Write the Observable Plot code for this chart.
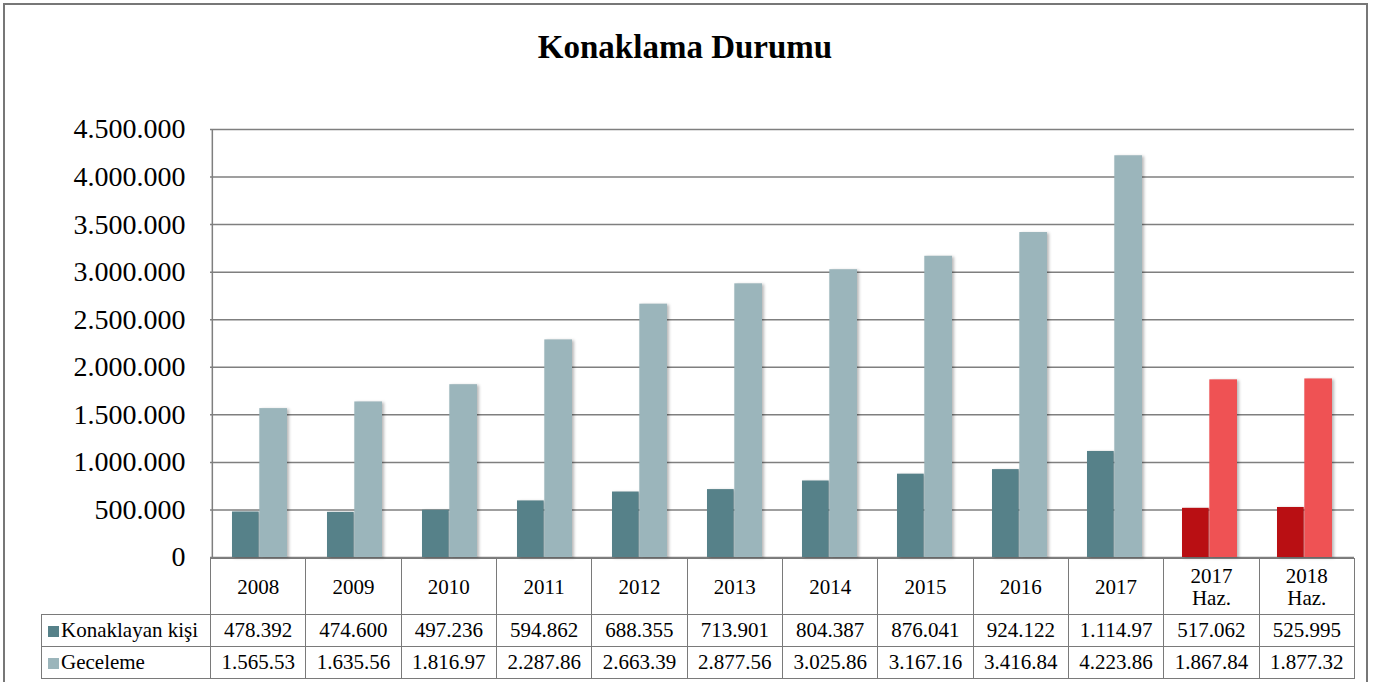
<!DOCTYPE html>
<html>
<head>
<meta charset="utf-8">
<script src="https://cdn.jsdelivr.net/npm/d3@7"></script>
<script src="https://cdn.jsdelivr.net/npm/@observablehq/plot@0.6"></script>
<style>
  html, body { margin: 0; padding: 0; background: #fff; width: 1376px; height: 682px; overflow: hidden; }
  body { position: relative; font-family: "Liberation Serif", "Times New Roman", serif; color: #000; }
  #frame { position: absolute; left: 3px; top: 3px; width: 1365px; height: 720px; box-sizing: border-box; border: 2px solid #777; }
  #title { position: absolute; left: 0; top: 31px; width: 1370px; text-align: center; font-family: "Liberation Serif", "Times New Roman", serif; font-size: 33px; line-height: 33px; font-weight: bold; }
  #chart { position: absolute; left: 0; top: 0; }
  #chart svg { font-family: "Liberation Serif", "Times New Roman", serif; overflow: visible; }
  #chart g[aria-label="y-axis tick label"] text { font-size: 28px; fill: #000; font-family: "Liberation Serif", "Times New Roman", serif; }
  #chart g[aria-label="bar"] { filter: drop-shadow(2px 1px 1.5px rgba(0,0,0,0.28)); }
  #table { position: absolute; left: 41px; top: 558px; border-collapse: collapse; table-layout: fixed; font-size: 21px; font-family: "Liberation Serif", "Times New Roman", serif; }
  #table td { border: 1.5px solid #7a7a7a; text-align: center; padding: 0; white-space: nowrap; overflow: hidden; font-family: "Liberation Serif", "Times New Roman", serif; font-size: 21px; color: #000; }
  #table tr.head td { height: 55px; line-height: 22px; }
  #table tr.head td.blank { border: none; border-right: 1.5px solid #7a7a7a; }
  #table tr.r1 td { height: 31px; }
  #table tr.r2 td { height: 31px; }
  #table td.leg { text-align: left; padding-left: 6px; }
  .sw { display: inline-block; width: 11px; height: 11px; margin-right: 2px; vertical-align: 0px; }
</style>
</head>
<body>
<div id="frame"></div>
<div id="title">Konaklama Durumu</div>
<div id="chart"></div>
<table id="table"></table>
<script>
// ---- data ----
const categories = ["2008", "2009", "2010", "2011", "2012", "2013", "2014", "2015", "2016", "2017", "2017 Haz.", "2018 Haz."];
const donem = ["yıl", "yıl", "yıl", "yıl", "yıl", "yıl", "yıl", "yıl", "yıl", "yıl", "haziran", "haziran"];
const konaklayan = [478392, 474600, 497236, 594862, 688355, 713901, 804387, 876041, 924122, 1114970, 517062, 525995];
const geceleme = [1565530, 1635560, 1816970, 2287860, 2663390, 2877560, 3025860, 3167160, 3416840, 4223860, 1867840, 1877320];
const seriesNames = ["Konaklayan kişi", "Geceleme"];
const yTicks = [0, 500000, 1000000, 1500000, 2000000, 2500000, 3000000, 3500000, 4000000, 4500000];

// ---- colours ----
const tealDark = "#568189", tealLight = "#9bb5bb", redDark = "#b90f13", redLight = "#ef5254";

const rows = categories.map((c, i) => ({category: c, konaklayan: konaklayan[i], geceleme: geceleme[i], haz: donem[i] === "haziran"}));

const tr = d3.formatLocale({decimal: ",", thousands: ".", grouping: [3], currency: ["", "₺"]});
const fmt = tr.format(",d");
const cellText = v => { const s = fmt(v); return s.length > 8 ? s.slice(0, 8) : s; };

const W = 1376, mL = 210, mR = 22;
const plot = Plot.plot({
  width: W,
  height: 560,
  marginTop: 129,
  marginBottom: 3,
  marginLeft: mL,
  marginRight: mR,
  x: {domain: categories, padding: 0, axis: null},
  y: {domain: [0, 4500000], axis: null},
  marks: [
    Plot.gridY(yTicks, {stroke: "#7f7f7f", strokeOpacity: 1, strokeWidth: 1.5}),
    Plot.barY(rows, {filter: d => !d.haz, x: "category", y: "konaklayan", fill: tealDark, insetLeft: 20, insetRight: 48.3}),
    Plot.barY(rows, {filter: d => !d.haz, x: "category", y: "geceleme", fill: tealLight, insetLeft: 47.3, insetRight: 20}),
    Plot.barY(rows, {filter: d => d.haz, x: "category", y: "konaklayan", fill: redDark, insetLeft: 20, insetRight: 48.3}),
    Plot.barY(rows, {filter: d => d.haz, x: "category", y: "geceleme", fill: redLight, insetLeft: 47.3, insetRight: 20}),
    Plot.axisY(yTicks, {tickSize: 0, tickPadding: 25, tickFormat: fmt, fontSize: 28}),
    Plot.ruleX([categories[0]], {y1: 0, y2: 4500000, dx: -(W - mL - mR) / categories.length / 2, stroke: "#7f7f7f", strokeWidth: 1.5})
  ]
});
document.getElementById("chart").appendChild(plot);

// ---- data table below the chart ----
const colW = (W - mL - mR) / categories.length;
const table = document.getElementById("table");
const colgroup = document.createElement("colgroup");
const c0 = document.createElement("col"); c0.style.width = (mL - 41) + "px"; colgroup.appendChild(c0);
categories.forEach(() => { const c = document.createElement("col"); c.style.width = colW + "px"; colgroup.appendChild(c); });
table.appendChild(colgroup);
table.style.width = (W - mR - 41) + "px";

const head = document.createElement("tr"); head.className = "head";
const blank = document.createElement("td"); blank.className = "blank"; head.appendChild(blank);
categories.forEach(c => { const td = document.createElement("td"); td.innerHTML = c.replace(" ", "<br>"); head.appendChild(td); });
table.appendChild(head);

[[seriesNames[0], konaklayan, tealDark, "r1"], [seriesNames[1], geceleme, tealLight, "r2"]].forEach(([name, vals, col, cls]) => {
  const r = document.createElement("tr"); r.className = cls;
  const td0 = document.createElement("td"); td0.className = "leg";
  td0.innerHTML = `<span class="sw" style="background:${col}"></span>${name}`;
  r.appendChild(td0);
  vals.forEach(v => { const td = document.createElement("td"); td.textContent = cellText(v); r.appendChild(td); });
  table.appendChild(r);
});
</script>
</body>
</html>
